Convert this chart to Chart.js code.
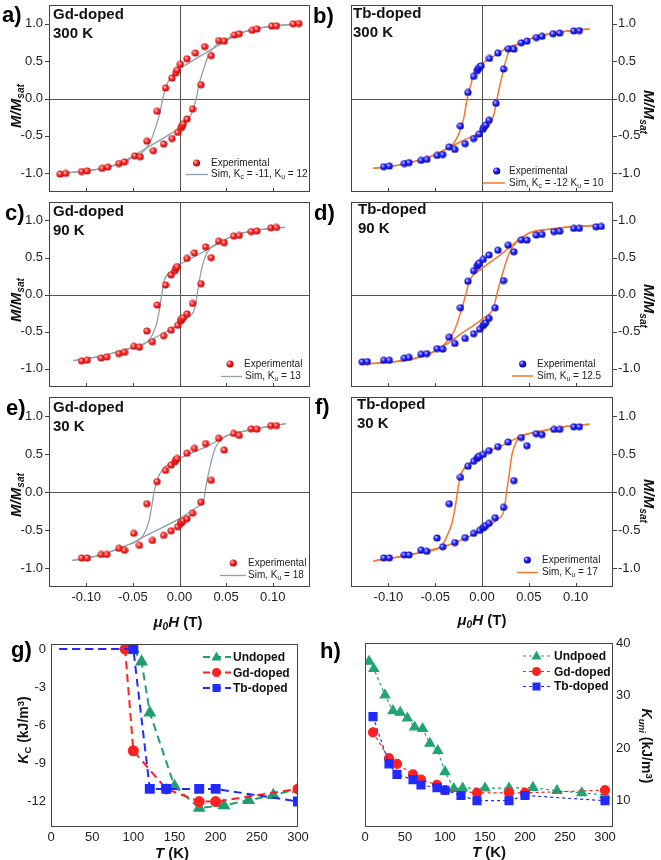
<!DOCTYPE html>
<html><head><meta charset="utf-8">
<script src="https://cdn.jsdelivr.net/npm/chart.js@4/dist/chart.umd.min.js"></script>
<style>
html,body{margin:0;padding:0;background:#fff;}
#wrap{position:relative;width:661px;height:860px;overflow:hidden;font-family:"Liberation Sans",Arial,Helvetica,sans-serif;color:#111;}
#wrap canvas{position:absolute;z-index:0;}
.t{position:absolute;white-space:nowrap;line-height:1;z-index:3;}
.pl{font-weight:bold;font-size:22px;color:#000;}
.in{font-weight:bold;font-size:15px;line-height:19px;color:#111;}
.lg{font-size:10px;color:#222;}
.lgb{font-size:12px;font-weight:bold;color:#111;}
.ax{font-weight:bold;font-size:15px;color:#111;}
.ax2{font-weight:bold;font-size:14px;color:#111;}
sub{font-size:0.68em;vertical-align:-0.32em;line-height:0;}
sup{font-size:0.68em;vertical-align:0.45em;line-height:0;}
.rl{transform:translate(-50%,-50%) rotate(-90deg);}
.rr{transform:translate(-50%,-50%) rotate(90deg);}
.cx{transform:translate(-50%,-50%);}
</style></head>
<body>
<div id="wrap">
<svg width="661" height="860" style="position:absolute;left:0;top:0;z-index:2">
<defs>
<radialGradient id="rb" cx="0.4" cy="0.4" r="0.6" fx="0.32" fy="0.32"><stop offset="0" stop-color="#ffd8d8"/><stop offset="0.45" stop-color="#ff2a2a"/><stop offset="1" stop-color="#b40000"/></radialGradient>
<radialGradient id="bb" cx="0.4" cy="0.4" r="0.6" fx="0.32" fy="0.32"><stop offset="0" stop-color="#d8d8ff"/><stop offset="0.45" stop-color="#2424ff"/><stop offset="1" stop-color="#00009c"/></radialGradient>
</defs>
<circle cx="196.5" cy="163" r="3.6" fill="url(#rb)"/>
<line x1="186" y1="174.5" x2="208" y2="174.5" stroke="#8fa0a8" stroke-width="1.3"/>
<circle cx="496.7" cy="171" r="3.6" fill="url(#bb)"/>
<line x1="483" y1="183" x2="505" y2="183" stroke="#f5782a" stroke-width="1.5"/>
<circle cx="230" cy="364" r="3.6" fill="url(#rb)"/>
<line x1="221" y1="376.5" x2="242" y2="376.5" stroke="#8fa0a8" stroke-width="1.3"/>
<circle cx="522.7" cy="364" r="3.6" fill="url(#bb)"/>
<line x1="512" y1="376" x2="533" y2="376" stroke="#f5782a" stroke-width="1.5"/>
<circle cx="233.3" cy="563" r="3.6" fill="url(#rb)"/>
<line x1="220" y1="575.5" x2="246" y2="575.5" stroke="#8fa0a8" stroke-width="1.3"/>
<circle cx="527.3" cy="560" r="3.6" fill="url(#bb)"/>
<line x1="517" y1="572.5" x2="538" y2="572.5" stroke="#f5782a" stroke-width="1.5"/>

<line x1="203" y1="657" x2="231" y2="657" stroke="#1f9e6e" stroke-width="2" stroke-dasharray="7,4"/>
<polygon points="216.5,651.5 221.5,660.5 211.5,660.5" fill="#1f9e6e"/>
<line x1="203" y1="672.5" x2="231" y2="672.5" stroke="#ff2020" stroke-width="2" stroke-dasharray="7,4"/>
<circle cx="216.5" cy="672.5" r="4.5" fill="#ff2020"/>
<line x1="203" y1="688" x2="231" y2="688" stroke="#1f2bff" stroke-width="2" stroke-dasharray="7,4"/>
<rect x="212.5" y="684" width="8" height="8" fill="#1f2bff"/>

<line x1="523" y1="656" x2="550" y2="656" stroke="#22a373" stroke-width="1.2" stroke-dasharray="3,3"/>
<polygon points="536.5,650.5 541.5,659.5 531.5,659.5" fill="#22a373"/>
<line x1="523" y1="671.5" x2="550" y2="671.5" stroke="#ff2020" stroke-width="1.2" stroke-dasharray="3,3"/>
<circle cx="536.5" cy="671.5" r="4.5" fill="#ff2020"/>
<line x1="523" y1="686.5" x2="550" y2="686.5" stroke="#1f2bff" stroke-width="1.2" stroke-dasharray="3,3"/>
<rect x="532.5" y="682.5" width="8" height="8" fill="#1f2bff"/>
</svg>

<div class="t pl" style="left:2px;top:4px">a)</div>
<div class="t pl" style="left:313px;top:5px">b)</div>
<div class="t pl" style="left:5px;top:202px">c)</div>
<div class="t pl" style="left:314px;top:202px">d)</div>
<div class="t pl" style="left:6px;top:397px">e)</div>
<div class="t pl" style="left:315px;top:396px">f)</div>
<div class="t pl" style="left:11px;top:639px">g)</div>
<div class="t pl" style="left:320px;top:640px">h)</div>

<div class="t in" style="left:53px;top:4px">Gd-doped<br>300 K</div>
<div class="t in" style="left:353px;top:3px">Tb-doped<br>300 K</div>
<div class="t in" style="left:53px;top:201px">Gd-doped<br>90 K</div>
<div class="t in" style="left:358px;top:199px">Tb-doped<br>90 K</div>
<div class="t in" style="left:53px;top:397px">Gd-doped<br>30 K</div>
<div class="t in" style="left:357px;top:394px">Tb-doped<br>30 K</div>

<div class="t lg" style="left:211px;top:158px">Experimental</div>
<div class="t lg" style="left:211px;top:169px">Sim, K<sub>c</sub> = -11, K<sub>u</sub> = 12</div>
<div class="t lg" style="left:509px;top:166px">Experimental</div>
<div class="t lg" style="left:509px;top:178px">Sim, K<sub>c</sub> = -12 K<sub>u</sub> = 10</div>
<div class="t lg" style="left:244px;top:359px">Experimental</div>
<div class="t lg" style="left:245px;top:371px">Sim, K<sub>u</sub> = 13</div>
<div class="t lg" style="left:537px;top:359px">Experimental</div>
<div class="t lg" style="left:537px;top:371px">Sim, K<sub>u</sub> = 12.5</div>
<div class="t lg" style="left:248px;top:558px">Experimental</div>
<div class="t lg" style="left:248px;top:570px">Sim, K<sub>u</sub> = 18</div>
<div class="t lg" style="left:542px;top:555px">Experimental</div>
<div class="t lg" style="left:542px;top:567px">Sim, K<sub>u</sub> = 17</div>

<div class="t lgb" style="left:233px;top:651px">Undoped</div>
<div class="t lgb" style="left:233px;top:667px">Gd-doped</div>
<div class="t lgb" style="left:233px;top:682px">Tb-doped</div>
<div class="t lgb" style="left:554px;top:650px">Undpoed</div>
<div class="t lgb" style="left:554px;top:666px">Gd-doped</div>
<div class="t lgb" style="left:554px;top:680px">Tb-doped</div>

<div class="t ax rl" style="left:15px;top:106px"><i>M/M<sub>sat</sub></i></div>
<div class="t ax rl" style="left:15px;top:300px"><i>M/M<sub>sat</sub></i></div>
<div class="t ax rl" style="left:15px;top:495px"><i>M/M<sub>sat</sub></i></div>
<div class="t ax rr" style="left:649px;top:112px"><i>M/M<sub>sat</sub></i></div>
<div class="t ax rr" style="left:649px;top:306px"><i>M/M<sub>sat</sub></i></div>
<div class="t ax rr" style="left:649px;top:501px"><i>M/M<sub>sat</sub></i></div>
<div class="t ax cx" style="left:178px;top:621px"><i>μ<sub>0</sub>H</i> (T)</div>
<div class="t ax cx" style="left:482px;top:619px"><i>μ<sub>0</sub>H</i> (T)</div>
<div class="t ax cx" style="left:172px;top:852px"><i>T</i> (K)</div>
<div class="t ax cx" style="left:489px;top:851px"><i>T</i> (K)</div>
<div class="t ax2 rl" style="left:23px;top:730px"><i>K</i><sub>C</sub> (kJ/m<sup>3</sup>)</div>
<div class="t ax2 rr" style="left:647px;top:746px"><i>K<sub>uni</sub></i> (kJ/m<sup>3</sup>)</div>
</div>

<script>
// ---------- tick labels ----------
const hTicks = [-0.10, -0.05, 0, 0.05, 0.10];
const mTicks = [-1, -0.5, 0, 0.5, 1];
const tTicks = [0, 50, 100, 150, 200, 250, 300];
const kcTicks = [0, -3, -6, -9, -12];
const kuTicks = [10, 20, 30, 40];

// ---------- a) Gd-doped 300 K ----------
const gd300H = [-0.128,-0.122,-0.105,-0.099,-0.083,-0.077,-0.065,-0.059,-0.048,-0.042,-0.035,-0.028,-0.024,-0.017,-0.015,-0.008,-0.008,-0.004,-0.0025,-0.002,0.001,0.002,0.003,0.004,0.008,0.008,0.014,0.017,0.023,0.027,0.034,0.042,0.048,0.059,0.064,0.078,0.083,0.099,0.104,0.122,0.128];
const gd300M = [-1.011,-1.002,-0.976,-0.968,-0.934,-0.917,-0.869,-0.848,-0.767,-0.779,-0.570,-0.698,-0.171,-0.608,0.141,-0.535,0.274,0.343,0.381,-0.454,0.458,-0.390,-0.368,-0.338,-0.274,0.531,-0.141,0.608,0.184,0.694,0.574,0.775,0.767,0.848,0.865,0.912,0.929,0.968,0.972,0.998,1.002];
const simGd300UpH = [-0.13,-0.11,-0.09,-0.075,-0.062,-0.049,-0.035,-0.02,-0.008,0,0.008,0.013,0.016,0.018,0.021,0.026,0.031,0.038,0.048,0.06,0.075,0.09,0.11,0.13];
const simGd300UpM = [-0.995,-0.98,-0.95,-0.91,-0.855,-0.76,-0.66,-0.55,-0.46,-0.40,-0.30,-0.20,-0.09,0.0,0.19,0.40,0.57,0.70,0.775,0.85,0.91,0.95,0.98,0.995];
const simGd300DnH = [-0.13,-0.11,-0.09,-0.075,-0.06,-0.048,-0.038,-0.031,-0.026,-0.021,-0.018,-0.016,-0.013,-0.008,0,0.008,0.02,0.035,0.049,0.062,0.075,0.09,0.11,0.13];
const simGd300DnM = [-0.995,-0.98,-0.95,-0.91,-0.85,-0.775,-0.70,-0.57,-0.40,-0.19,0.0,0.09,0.20,0.30,0.40,0.46,0.55,0.66,0.76,0.855,0.91,0.95,0.98,0.995];

// ---------- b) Tb-doped 300 K ----------
const tb300H = [-0.105,-0.099,-0.083,-0.078,-0.065,-0.059,-0.048,-0.042,-0.035,-0.029,-0.023,-0.018,-0.015,-0.009,-0.009,-0.005,-0.004,-0.003,-0.003,-0.001,0.001,0.0025,0.004,0.0075,0.008,0.015,0.017,0.023,0.028,0.034,0.042,0.048,0.058,0.064,0.076,0.083,0.098,0.104];
const tb300M = [-0.912,-0.904,-0.869,-0.857,-0.827,-0.814,-0.762,-0.749,-0.647,-0.681,-0.368,-0.604,0.081,-0.535,0.296,0.373,0.394,0.415,-0.475,0.437,-0.411,-0.377,-0.355,-0.291,0.535,-0.064,0.608,0.394,0.664,0.660,0.745,0.767,0.814,0.831,0.865,0.874,0.904,0.908];
const simTb300UpH = [-0.116,-0.098,-0.077,-0.055,-0.036,-0.02,0,0.009,0.013,0.016,0.019,0.022,0.026,0.030,0.0375,0.052,0.07,0.0875,0.115];
const simTb300UpM = [-0.934,-0.91,-0.857,-0.775,-0.66,-0.56,-0.44,-0.33,-0.2,-0.01,0.17,0.33,0.53,0.66,0.72,0.80,0.86,0.895,0.93];
const simTb300DnH = [-0.116,-0.098,-0.077,-0.055,-0.036,-0.031,-0.025,-0.0196,-0.016,-0.0125,-0.009,0,0.016,0.030,0.0375,0.052,0.07,0.0875,0.115];
const simTb300DnM = [-0.934,-0.91,-0.857,-0.775,-0.66,-0.61,-0.48,-0.27,-0.01,0.16,0.31,0.46,0.59,0.70,0.72,0.80,0.86,0.895,0.93];

// ---------- c) Gd-doped 90 K ----------
const gd90H = [-0.105,-0.099,-0.084,-0.078,-0.065,-0.059,-0.049,-0.043,-0.035,-0.029,-0.024,-0.017,-0.015,-0.009,-0.009,-0.005,-0.004,-0.002,-0.0025,0.0014,0.002,0.004,0.008,0.008,0.014,0.016,0.023,0.028,0.034,0.042,0.048,0.058,0.064,0.077,0.083,0.098,0.104];
const gd90M = [-0.897,-0.888,-0.858,-0.845,-0.798,-0.781,-0.700,-0.712,-0.494,-0.639,-0.142,-0.558,0.129,-0.481,0.266,0.322,0.356,-0.416,0.378,-0.356,-0.335,-0.313,-0.262,0.489,-0.120,0.562,0.146,0.644,0.498,0.721,0.700,0.790,0.798,0.850,0.858,0.901,0.906];
const simGd90UpH = [-0.114,-0.085,-0.06,-0.040,-0.02,0,0.008,0.016,0.019,0.0214,0.025,0.0293,0.0346,0.040,0.058,0.083,0.113];
const simGd90UpM = [-0.893,-0.837,-0.751,-0.672,-0.54,-0.40,-0.32,-0.20,0.0,0.193,0.41,0.558,0.644,0.687,0.794,0.871,0.906];
const simGd90DnH = [-0.114,-0.085,-0.06,-0.040,-0.035,-0.0296,-0.025,-0.0214,-0.019,-0.016,-0.008,0,0.02,0.040,0.058,0.083,0.113];
const simGd90DnM = [-0.893,-0.837,-0.751,-0.687,-0.644,-0.558,-0.41,-0.193,0.0,0.20,0.32,0.40,0.54,0.672,0.794,0.871,0.906];

// ---------- d) Tb-doped 90 K ----------
const tb90H = [-0.128,-0.1225,-0.105,-0.099,-0.083,-0.078,-0.065,-0.059,-0.048,-0.042,-0.035,-0.029,-0.023,-0.018,-0.015,-0.009,-0.009,-0.005,-0.004,-0.003,-0.0025,0.0014,0.0014,0.0025,0.004,0.0075,0.0075,0.014,0.017,0.023,0.028,0.034,0.042,0.048,0.058,0.064,0.077,0.083,0.098,0.104,0.122,0.1275];
const tb90M = [-0.910,-0.906,-0.889,-0.889,-0.859,-0.850,-0.808,-0.799,-0.731,-0.739,-0.577,-0.662,-0.179,-0.594,0.179,-0.530,0.321,0.385,0.406,0.423,-0.470,0.474,-0.419,-0.397,-0.380,-0.321,0.534,-0.179,0.598,0.188,0.667,0.577,0.739,0.735,0.803,0.812,0.850,0.855,0.893,0.893,0.915,0.919];
const simTb90UpH = [-0.127,-0.1,-0.073,-0.0446,-0.02,0,0.0125,0.016,0.0196,0.025,0.030,0.0357,0.041,0.052,0.07,0.0875,0.1275];
const simTb90UpM = [-0.94,-0.915,-0.868,-0.726,-0.51,-0.333,-0.171,0.01,0.18,0.41,0.585,0.69,0.756,0.84,0.88,0.906,0.94];
const simTb90DnH = [-0.127,-0.1,-0.073,-0.0446,-0.039,-0.030,-0.023,-0.018,-0.0132,0,0.02,0.041,0.052,0.07,0.0875,0.1275];
const simTb90DnM = [-0.94,-0.915,-0.868,-0.726,-0.654,-0.504,-0.248,-0.034,0.188,0.35,0.54,0.756,0.84,0.88,0.906,0.94];

// ---------- e) Gd-doped 30 K ----------
const gd30H = [-0.105,-0.099,-0.084,-0.078,-0.065,-0.059,-0.049,-0.043,-0.035,-0.029,-0.024,-0.017,-0.015,-0.009,-0.009,-0.005,-0.004,-0.002,-0.0025,0.0014,0.002,0.004,0.008,0.008,0.014,0.016,0.023,0.028,0.034,0.042,0.048,0.058,0.064,0.077,0.083,0.098,0.104];
const gd30M = [-0.869,-0.869,-0.822,-0.822,-0.741,-0.767,-0.544,-0.702,-0.154,-0.638,0.137,-0.570,0.283,-0.510,0.355,0.398,0.424,-0.458,0.441,-0.415,-0.394,-0.377,-0.351,0.510,-0.278,0.574,-0.133,0.638,0.154,0.707,0.552,0.771,0.745,0.831,0.827,0.874,0.874];
const simGd30UpH = [-0.115,-0.085,-0.055,-0.031,0,0.0186,0.0257,0.029,0.0336,0.038,0.0436,0.0507,0.058,0.083,0.114];
const simGd30UpM = [-0.90,-0.83,-0.694,-0.544,-0.35,-0.20,-0.116,0.12,0.377,0.57,0.677,0.74,0.77,0.835,0.90];
const simGd30DnH = [-0.115,-0.085,-0.055,-0.046,-0.0386,-0.033,-0.0296,-0.028,-0.024,-0.017,0,0.031,0.0507,0.058,0.083,0.114];
const simGd30DnM = [-0.90,-0.83,-0.694,-0.651,-0.565,-0.394,-0.18,-0.05,0.163,0.31,0.44,0.61,0.74,0.77,0.835,0.90];

// ---------- f) Tb-doped 30 K ----------
const tb30H = [-0.105,-0.099,-0.083,-0.078,-0.065,-0.059,-0.048,-0.042,-0.035,-0.029,-0.023,-0.018,-0.015,-0.009,-0.009,-0.005,-0.004,-0.003,-0.0025,0.0014,0.0014,0.0025,0.004,0.0075,0.0075,0.014,0.017,0.023,0.028,0.034,0.042,0.048,0.058,0.064,0.077,0.083,0.098,0.104];
const tb30M = [-0.867,-0.867,-0.828,-0.828,-0.764,-0.781,-0.605,-0.721,-0.155,-0.665,0.193,-0.601,0.339,-0.545,0.403,0.442,0.459,0.472,-0.506,0.494,-0.472,-0.455,-0.442,-0.412,0.545,-0.339,0.597,-0.202,0.657,0.150,0.717,0.609,0.768,0.755,0.824,0.824,0.858,0.858];
const simTb30UpH = [-0.116,-0.073,-0.0446,-0.0268,0,0.016,0.024,0.026,0.0286,0.032,0.039,0.0446,0.059,0.0875,0.115];
const simTb30UpM = [-0.91,-0.815,-0.73,-0.657,-0.494,-0.365,-0.215,-0.02,0.193,0.49,0.708,0.75,0.79,0.858,0.89];
const simTb30DnH = [-0.116,-0.073,-0.0446,-0.043,-0.0375,-0.032,-0.028,-0.026,-0.023,-0.016,0,0.0268,0.0446,0.059,0.0875,0.115];
const simTb30DnM = [-0.91,-0.815,-0.73,-0.71,-0.58,-0.408,-0.15,0.02,0.215,0.343,0.485,0.644,0.75,0.79,0.858,0.89];

// ---------- g) K_C vs T ----------
const gT_und = [100,110,120,150,180,210,240,270,300];
const gK_und = [0,-1,-5,-10.8,-12.5,-12.3,-11.9,-11.5,-11];
const gT_gd = [10,90,100,140,180,200,300];
const gK_gd = [0,0,-8,-11,-12,-12,-11];
const gT_tb = [10,100,120,140,180,200,300];
const gK_tb = [0,0,-11,-11,-11,-11,-12];

// ---------- h) K_uni vs T ----------
const hT_und = [5,11,25,35,44,53,62,72,81,91,100,111,122,150,180,210,240,271,300];
const hK_und = [36.5,35.1,30.1,27.1,26.8,25.7,24.0,23.7,20.9,19.5,15.5,12.3,12.4,12.4,12.4,12.5,11.9,11.5,11.1];
const hT_gd = [10,30,40,60,70,90,100,140,180,200,300];
const hK_gd = [23,18.1,17,15,14,13,12,11.5,11.5,11.5,12];
const hT_tb = [10,30,40,60,70,90,100,120,140,180,200,300];
const hK_tb = [26,17,15,14,13,12.5,12,11,10,10,11,10];

// ================= drawing =================
Chart.defaults.font.family = '"Liberation Sans", Arial, Helvetica, sans-serif';
Chart.defaults.font.size = 13;
Chart.defaults.color = '#222';

const wrap = document.getElementById('wrap');
const pts = (xs, ys) => xs.map((x, i) => ({x: x, y: ys[i]}));

function mkCanvas(l, t, w, h) {
  const c = document.createElement('canvas');
  c.width = w; c.height = h;
  c.style.left = l + 'px'; c.style.top = t + 'px';
  c.style.width = w + 'px'; c.style.height = h + 'px';
  wrap.insertBefore(c, wrap.firstChild);
  return c;
}
function ball(c1, c2, c3) {
  const s = 8, cv = document.createElement('canvas');
  cv.width = s; cv.height = s;
  const ctx = cv.getContext('2d');
  const g = ctx.createRadialGradient(2.8, 2.8, 0.2, 4, 4, 4);
  g.addColorStop(0, c1); g.addColorStop(0.45, c2); g.addColorStop(1, c3);
  ctx.fillStyle = g; ctx.beginPath(); ctx.arc(4, 4, 3.6, 0, Math.PI * 2); ctx.fill();
  return cv;
}
const redBall = ball('#ffd8d8', '#ff2a2a', '#b40000');
const blueBall = ball('#d8d8ff', '#2424ff', '#00009c');

function zeroPad(s) { s.paddingTop = 0; s.paddingBottom = 0; s.paddingLeft = 0; s.paddingRight = 0; }
const fixY = w => s => { s.width = w; zeroPad(s); };
const fixX = h => s => { s.height = h; zeroPad(s); };
const setTicks = arr => s => { s.ticks = arr.map(v => ({value: v})); };

const framePlugin = {
  id: 'frame',
  beforeDatasetsDraw(chart, args, opts) {
    if (!opts.zero) return;
    const {ctx, chartArea: a, scales: {x, y}} = chart;
    const px = Math.round(x.getPixelForValue(0)) + 0.5;
    const py = Math.round(y.getPixelForValue(0)) + 0.5;
    ctx.save(); ctx.strokeStyle = '#555'; ctx.lineWidth = 1;
    ctx.beginPath();
    ctx.moveTo(px, a.top); ctx.lineTo(px, a.bottom);
    ctx.moveTo(a.left, py); ctx.lineTo(a.right, py);
    ctx.stroke(); ctx.restore();
  },
  afterDraw(chart, args, opts) {
    const {ctx, chartArea: a, scales: {x, y}} = chart;
    ctx.save(); ctx.strokeStyle = '#444'; ctx.lineWidth = 1;
    ctx.strokeRect(a.left + 0.5, a.top + 0.5, a.right - a.left - 1, a.bottom - a.top - 1);
    ctx.beginPath();
    if (opts.yTicks) {
      y.ticks.forEach(t => {
        const py = Math.round(y.getPixelForValue(t.value)) + 0.5;
        if (y.position === 'left') { ctx.moveTo(a.left - 4, py); ctx.lineTo(a.left, py); }
        else { ctx.moveTo(a.right, py); ctx.lineTo(a.right + 4, py); }
      });
    }
    if (opts.xTicks) {
      x.ticks.forEach(t => {
        const px = Math.round(x.getPixelForValue(t.value)) + 0.5;
        ctx.moveTo(px, a.bottom); ctx.lineTo(px, a.bottom - 4);
      });
    }
    ctx.stroke(); ctx.restore();
  }
};

function hyst(c) {
  const cv = mkCanvas(c.l, c.t, c.w, c.h);
  const simDs = (xs, ys) => ({data: pts(xs, ys), borderColor: c.col, borderWidth: c.lw, pointRadius: 0,
    cubicInterpolationMode: 'monotone', fill: false});
  new Chart(cv, {
    type: 'line',
    data: {datasets: [
      {data: pts(c.eH, c.eM), showLine: false, pointStyle: c.ball, pointRadius: 4, pointHoverRadius: 4},
      simDs(c.uH, c.uM),
      simDs(c.dH, c.dM)
    ]},
    options: {
      responsive: false, animation: false, devicePixelRatio: 1, events: [],
      layout: {padding: c.pad},
      plugins: {legend: {display: false}, tooltip: {enabled: false},
        frame: {zero: true, xTicks: true, yTicks: true}},
      scales: {
        x: {type: 'linear', min: -0.14, max: 0.14,
          grid: {display: false, drawTicks: false}, border: {display: false},
          afterBuildTicks: setTicks(hTicks), afterFit: fixX(c.xh),
          ticks: {display: c.showX, padding: 3, maxRotation: 0, autoSkip: false, callback: v => v.toFixed(2)}},
        y: {type: 'linear', position: c.pos, min: -1.25, max: 1.25,
          grid: {display: false, drawTicks: false}, border: {display: false},
          afterBuildTicks: setTicks(mTicks), afterFit: fixY(48 + (c.pos === 'left' ? 1 : 0)),
          ticks: {padding: c.pos === 'left' ? 6 : 5, autoSkip: false, callback: v => v.toFixed(1)}}
      }
    },
    plugins: [framePlugin]
  });
}

const GRAY = '#8fa0a8', ORANGE = '#f5782a';
hyst({l: 0, t: 0, w: 330, h: 197, pad: {top: 3, right: 20, left: 0, bottom: 0}, xh: 0, showX: false, pos: 'left',
  eH: gd300H, eM: gd300M, uH: simGd300UpH, uM: simGd300UpM, dH: simGd300DnH, dM: simGd300DnM, col: GRAY, lw: 1.3, ball: redBall});
hyst({l: 330, t: 0, w: 331, h: 197, pad: {top: 3, right: 0, left: 21, bottom: 0}, xh: 0, showX: false, pos: 'right',
  eH: tb300H, eM: tb300M, uH: simTb300UpH, uM: simTb300UpM, dH: simTb300DnH, dM: simTb300DnM, col: ORANGE, lw: 1.5, ball: blueBall});
hyst({l: 0, t: 197, w: 330, h: 195, pad: {top: 0, right: 20, left: 0, bottom: 0}, xh: 0, showX: false, pos: 'left',
  eH: gd90H, eM: gd90M, uH: simGd90UpH, uM: simGd90UpM, dH: simGd90DnH, dM: simGd90DnM, col: GRAY, lw: 1.3, ball: redBall});
hyst({l: 330, t: 197, w: 331, h: 195, pad: {top: 0, right: 0, left: 21, bottom: 0}, xh: 0, showX: false, pos: 'right',
  eH: tb90H, eM: tb90M, uH: simTb90UpH, uM: simTb90UpM, dH: simTb90DnH, dM: simTb90DnM, col: ORANGE, lw: 1.5, ball: blueBall});
hyst({l: 0, t: 392, w: 330, h: 215, pad: {top: 0, right: 20, left: 0, bottom: 0}, xh: 20, showX: true, pos: 'left',
  eH: gd30H, eM: gd30M, uH: simGd30UpH, uM: simGd30UpM, dH: simGd30DnH, dM: simGd30DnM, col: GRAY, lw: 1.3, ball: redBall});
hyst({l: 330, t: 392, w: 331, h: 215, pad: {top: 0, right: 0, left: 21, bottom: 0}, xh: 20, showX: true, pos: 'right',
  eH: tb30H, eM: tb30M, uH: simTb30UpH, uM: simTb30UpM, dH: simTb30DnH, dM: simTb30DnM, col: ORANGE, lw: 1.5, ball: blueBall});

// ---- g and h ----
function kplot(c) {
  const cv = mkCanvas(c.l, c.t, c.w, c.h);
  const ds = (xs, ys, col, style, r, order, skipFirst) => ({
    data: pts(xs, ys), borderColor: col, backgroundColor: col, pointBackgroundColor: col, pointBorderColor: col,
    borderWidth: c.lw, borderDash: c.dash, pointStyle: style, order: order,
    pointRadius: skipFirst ? (ctx => ctx.dataIndex === 0 ? 0 : r) : r, pointHoverRadius: r, tension: 0, fill: false
  });
  new Chart(cv, {
    type: 'line',
    data: {datasets: [
      ds(c.tbT, c.tbK, '#1f2bff', 'rect', c.rr, 1, c.skip),
      ds(c.gdT, c.gdK, '#ff2020', 'circle', c.rc, 2, c.skip),
      ds(c.unT, c.unK, c.green, 'triangle', c.rt, 3, false)
    ]},
    options: {
      responsive: false, animation: false, devicePixelRatio: 1, events: [],
      layout: {padding: c.pad},
      plugins: {legend: {display: false}, tooltip: {enabled: false}, frame: {zero: false, xTicks: false, yTicks: false}},
      scales: {
        x: {type: 'linear', min: 0, max: c.xmax, grid: {display: false, drawTicks: false}, border: {display: false},
          afterBuildTicks: setTicks(tTicks), afterFit: fixX(c.xh),
          ticks: {padding: 3, maxRotation: 0, autoSkip: false, callback: v => String(v)}},
        y: {type: 'linear', position: c.pos, min: c.ymin, max: c.ymax, grid: {display: false, drawTicks: false}, border: {display: false},
          afterBuildTicks: setTicks(c.yt), afterFit: fixY(c.yw),
          ticks: {padding: c.ypad, autoSkip: false, callback: v => String(v)}}
      }
    },
    plugins: [framePlugin]
  });
}
kplot({l: 0, t: 630, w: 330, h: 230, pad: {top: 14, right: 32, left: 0, bottom: 0}, xh: 33, yw: 51, pos: 'left', ypad: 5,
  xmax: 300, ymin: -14, ymax: 0.4, yt: kcTicks, lw: 2, dash: [8, 5], rr: 5.6, rc: 4.5, rt: 5.5, skip: true, green: '#1f9e6e',
  unT: gT_und, unK: gK_und, gdT: gT_gd, gdK: gK_gd, tbT: gT_tb, tbK: gK_tb});
kplot({l: 330, t: 630, w: 331, h: 230, pad: {top: 13, right: 0, left: 35, bottom: 0}, xh: 33, yw: 48, pos: 'right', ypad: 3,
  xmax: 310, ymin: 5, ymax: 40, yt: kuTicks, lw: 1.2, dash: [3, 3], rr: 5.6, rc: 4.5, rt: 5.5, skip: false, green: '#22a373',
  unT: hT_und, unK: hK_und, gdT: hT_gd, gdK: hK_gd, tbT: hT_tb, tbK: hK_tb});
</script>
</body></html>
